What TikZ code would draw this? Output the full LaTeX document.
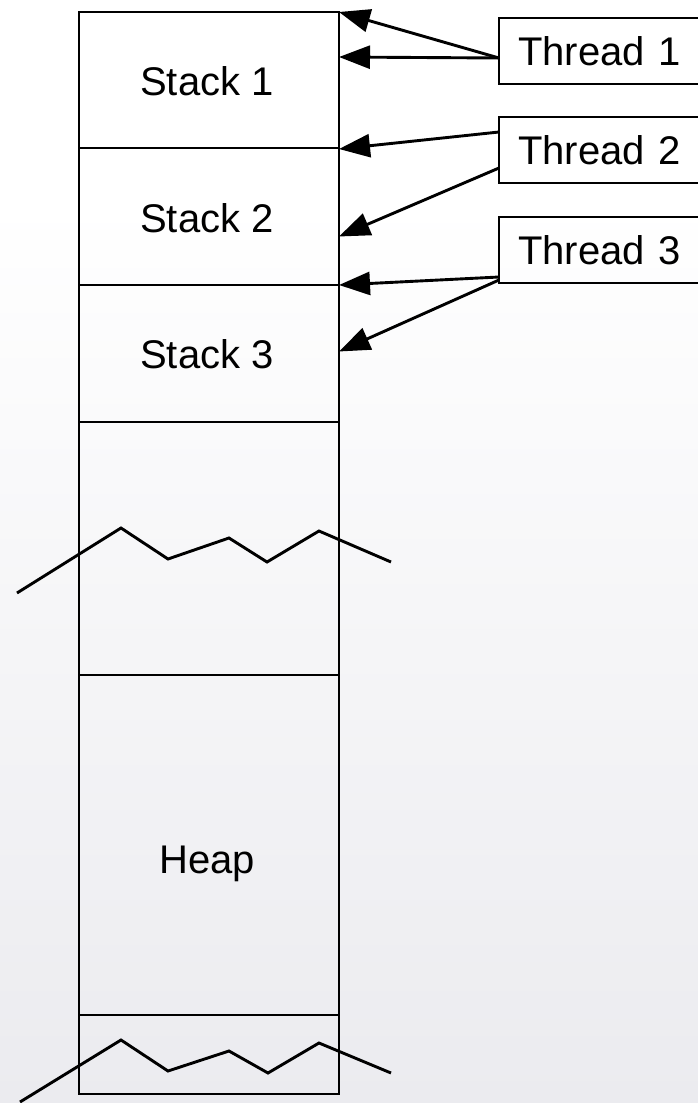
\documentclass[tikz,border=0pt]{standalone}
\usepackage{fontspec}
\setmainfont{Liberation Sans}
\usetikzlibrary{arrows.meta,calc}
\definecolor{bggray}{RGB}{235,235,239}
\begin{document}
\begin{tikzpicture}[x=1pt,y=-1pt,
  seg/.style={draw, line width=2.9pt, minimum width=260pt, inner sep=0pt, outer sep=0pt},
  lbl/.style={anchor=base, inner sep=0pt, font=\fontsize{40}{48}\selectfont},
  thread/.style={draw, line width=2.9pt, anchor=west, outer sep=0pt, minimum height=66pt,
    inner xsep=19pt, inner ysep=0pt, text width=173pt, align=left,
    font=\fontsize{40}{48}\selectfont},
  ptr/.style={line width=2.9pt, -{Triangle[length=31pt,width=23pt]}},
  cut/.style={line width=2.9pt, line join=miter}]
  % page and background
  \useasboundingbox (0,0) rectangle (698,1103);
  \fill[white] (0,0) rectangle (698,1103);
  \shade[top color=white, bottom color=bggray] (0,200) rectangle (698,1103);

  % memory column
  \node[seg, minimum height=136pt] (s1) at (209,80) {};
  \node[seg, minimum height=137pt] (s2) at (209,216.5) {};
  \node[seg, minimum height=137pt] (s3) at (209,353.5) {};
  \node[seg, minimum height=253pt] (gap) at (209,548.5) {};
  \node[seg, minimum height=340pt] (heap) at (209,845) {};
  \node[seg, minimum height=79pt] (tail) at (209,1054.5) {};

  \node[lbl] (l1) at (207,95) {Stack 1};
  \node[lbl] (l2) at (207,232) {Stack 2};
  \node[lbl] (l3) at (207,368) {Stack 3};
  \node[lbl] (lh) at (207,873) {Heap};

  % break marks
  \draw[cut] (17,593) -- (121,528) -- (168,559) -- (229,538) -- (267,562) -- (319,531) -- (391,562);
  \draw[cut] (20,1102) -- (121,1040) -- (168,1071) -- (229,1051) -- (268,1073) -- (319,1043) -- (391,1073);

  % threads
  \node[thread] (t1) at (499,51) {Thread 1};
  \node[thread] (t2) at (499,150) {Thread 2};
  \node[thread] (t3) at (499,250) {Thread 3};

  % stack pointers
  \draw[ptr] ($(t1.west)+(0,7)$) -- (s1.north east);
  \draw[ptr] ($(t1.west)+(0,7)$) -- ($(s1.north east)+(0,45)$);
  \draw[ptr] ($(t2.west)+(0,-18)$) -- ($(s1.south east)+(0,1)$);
  \draw[ptr] ($(t2.west)+(0,18)$) -- ($(s2.east)+(0,20)$);
  \draw[ptr] ($(t3.west)+(0,27)$) -- (s2.south east);
  \draw[ptr] ($(t3.west)+(0,30)$) -- ($(s3.east)+(0,-2)$);
\end{tikzpicture}
\end{document}
